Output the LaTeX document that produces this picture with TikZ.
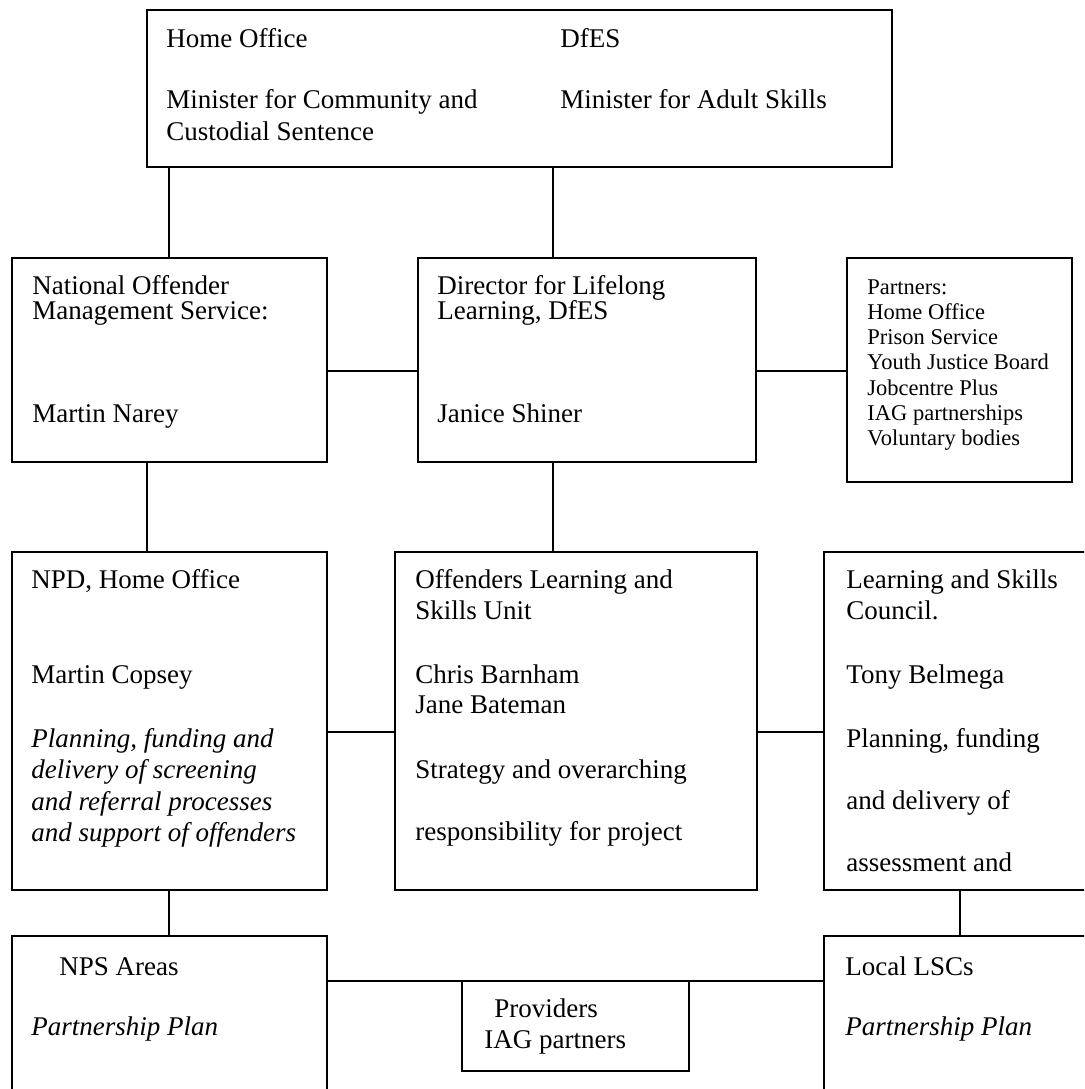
\documentclass[tikz,border=0pt]{standalone}
\usepackage{fontspec}
\setmainfont{Liberation Serif}
\usetikzlibrary{fit}
\begin{document}
\begin{tikzpicture}[x=0.4444pt,y=-0.4444pt,
  box/.style={draw, line width=0.85pt, inner sep=0pt, rectangle},
  link/.style={draw, line width=0.6pt},
  txt/.style={anchor=base west, inner sep=0pt, font=\fontsize{12}{13.8}\selectfont},
  itxt/.style={txt, font=\fontsize{12}{13.8}\selectfont\itshape},
  stxt/.style={anchor=base west, inner sep=0pt, font=\fontsize{10}{11.5}\selectfont}]
\useasboundingbox (0,0) rectangle (1084,1089);
\clip (0,0) rectangle (1084,1089);
% boxes
\node[box, fit={(147,10) (892,167)}] (top) {};
\node[box, fit={(12,258) (327,462)}] (noms) {};
\node[box, fit={(418,258) (756,462)}] (dir) {};
\node[box, fit={(847,258) (1072,482)}] (partners) {};
\node[box, fit={(12,552) (327,890)}] (npd) {};
\node[box, fit={(395,552) (757,890)}] (olsu) {};
\node[box, fit={(824,552) (1140,890)}] (lsc) {};
\node[box, fit={(12,936) (327,1150)}] (nps) {};
\node[box, fit={(462,981) (689,1071)}] (providers) {};
\node[box, fit={(824,936) (1140,1150)}] (local) {};
% helper coordinates
\coordinate (xA) at (169,0);
\coordinate (xB) at (553,0);
\coordinate (xC) at (147,0);
\coordinate (xD) at (960,0);
\coordinate (yA) at (0,371);
\coordinate (yB) at (0,732);
\coordinate (yC) at (0,981);
% connectors
\draw[link] (top.south -| xA) -- (noms.north -| xA);
\draw[link] (top.south -| xB) -- (dir.north -| xB);
\draw[link] (noms.east |- yA) -- (dir.west |- yA);
\draw[link] (dir.east |- yA) -- (partners.west |- yA);
\draw[link] (noms.south -| xC) -- (npd.north -| xC);
\draw[link] (dir.south -| xB) -- (olsu.north -| xB);
\draw[link] (npd.east |- yB) -- (olsu.west |- yB);
\draw[link] (olsu.east |- yB) -- (lsc.west |- yB);
\draw[link] (npd.south -| xA) -- (nps.north -| xA);
\draw[link] (lsc.south -| xD) -- (local.north -| xD);
\draw[link] (nps.east |- yC) -- (local.west |- yC);
% texts: top box
\node[txt] (t1) at (166,47) {Home Office};
\node[txt] (t2) at (560,47) {DfES};
\node[txt] (t3) at (166,108) {Minister for Community and};
\node[txt] (t4) at (166,140) {Custodial Sentence};
\node[txt] (t5) at (560,108) {Minister for Adult Skills};
% NOMS
\node[txt] (n1) at (32,294) {National Offender};
\node[txt] (n2) at (32,319) {Management Service:};
\node[txt] (n3) at (32,422) {Martin Narey};
% Director
\node[txt] (d1) at (437,294) {Director for Lifelong};
\node[txt] (d2) at (437,319) {Learning, DfES};
\node[txt] (d3) at (437,422) {Janice Shiner};
% Partners
\node[stxt] (p1) at (867,294) {Partners:};
\node[stxt] (p2) at (867,319.3) {Home Office};
\node[stxt] (p3) at (867,344.6) {Prison Service};
\node[stxt] (p4) at (867,369.9) {Youth Justice Board};
\node[stxt] (p5) at (867,395.2) {Jobcentre Plus};
\node[stxt] (p6) at (867,420.5) {IAG partnerships};
\node[stxt] (p7) at (867,445.8) {Voluntary bodies};
% NPD
\node[txt] (a1) at (31,588) {NPD, Home Office};
\node[txt] (a2) at (31,683) {Martin Copsey};
\node[itxt] (a3) at (31,747) {Planning, funding and};
\node[itxt] (a4) at (31,778) {delivery of screening};
\node[itxt] (a5) at (31,810) {and referral processes};
\node[itxt] (a6) at (31,841) {and support of offenders};
% OLSU
\node[txt] (o1) at (415,588) {Offenders Learning and};
\node[txt] (o2) at (415,619) {Skills Unit};
\node[txt] (o3) at (415,683) {Chris Barnham};
\node[txt] (o4) at (415,713) {Jane Bateman};
\node[txt] (o5) at (415,778) {Strategy and overarching};
\node[txt] (o6) at (415,840) {responsibility for project};
% LSC
\node[txt] (l1) at (846,588) {Learning and Skills};
\node[txt] (l2) at (846,619) {Council.};
\node[txt] (l3) at (846,683) {Tony Belmega};
\node[txt] (l4) at (846,747) {Planning, funding};
\node[txt] (l5) at (846,809) {and delivery of};
\node[txt] (l6) at (846,871) {assessment and};
% bottom row
\node[txt] (b1) at (59,975) {NPS Areas};
\node[itxt] (b2) at (31,1035) {Partnership Plan};
\node[txt] (b3) at (494,1017) {Providers};
\node[txt] (b4) at (484,1048) {IAG partners};
\node[txt] (b5) at (845,975) {Local LSCs};
\node[itxt] (b6) at (845,1035) {Partnership Plan};
\end{tikzpicture}
\end{document}
